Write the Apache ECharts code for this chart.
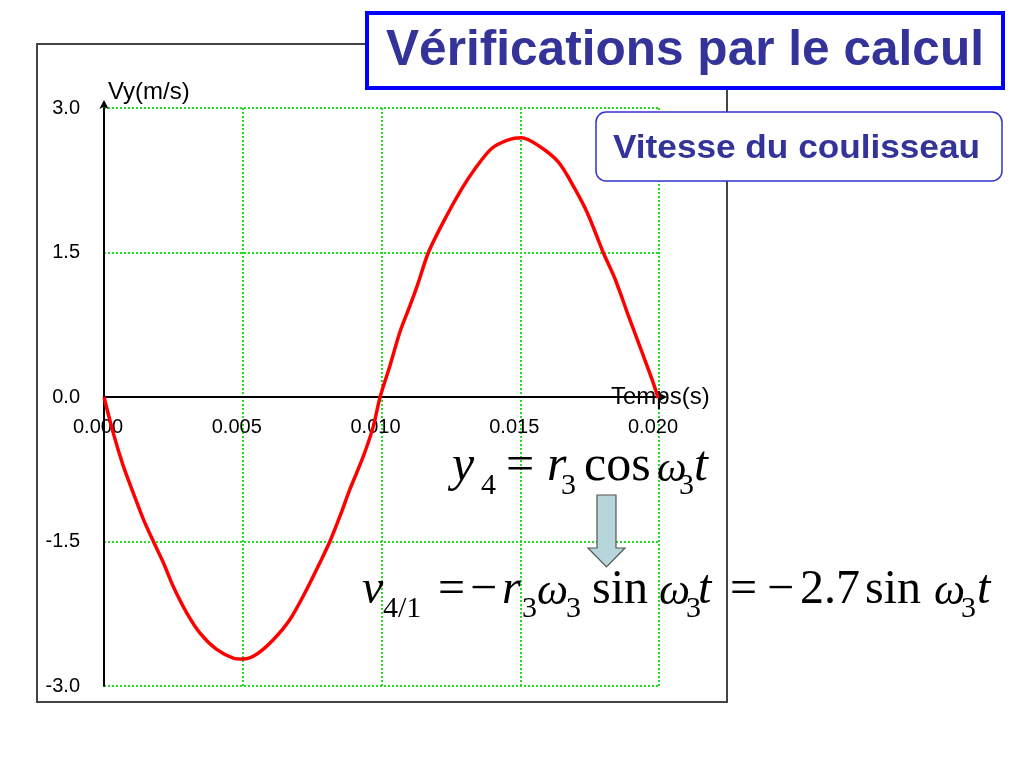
<!DOCTYPE html>
<html>
<head>
<meta charset="utf-8">
<script src="https://cdn.jsdelivr.net/npm/echarts@6/dist/echarts.min.js"></script>
<style>
html,body{margin:0;padding:0;background:#fff;}
#chart{width:1024px;height:768px;}
</style>
</head>
<body>
<div id="chart"></div>
<script>
// ---- data ----
const times = [0, 0.00034, 0.00070, 0.00106, 0.00142, 0.00178, 0.00214, 0.00250, 0.00298, 0.00346,
  0.00406, 0.00466, 0.00502, 0.00550, 0.00610, 0.00670, 0.00730, 0.00778, 0.00814, 0.00850,
  0.00886, 0.00934, 0.00970, 0.00995, 0.01031, 0.01067, 0.01103, 0.01133, 0.01169, 0.01229,
  0.01289, 0.01337, 0.01397, 0.01457, 0.01505, 0.01565, 0.01637, 0.01697, 0.01745, 0.01799,
  0.01841, 0.01889, 0.01938, 0.01974, 0.01997];
const vy = [0, -0.38, -0.72, -1.00, -1.27, -1.5, -1.72, -1.97, -2.24, -2.45,
  -2.62, -2.71, -2.72, -2.67, -2.52, -2.31, -2.00, -1.72, -1.5, -1.24,
  -0.96, -0.62, -0.31, 0, 0.33, 0.68, 0.95, 1.19, 1.5, 1.85,
  2.16, 2.37, 2.58, 2.67, 2.69, 2.61, 2.44, 2.16, 1.89, 1.5,
  1.23, 0.85, 0.47, 0.19, -0.01];
const xTicks = {min: 0, max: 0.020, step: 0.005};
const yTicks = {min: -3.0, max: 3.0, step: 1.5};
const titleText = 'Vérifications par le calcul';
const subtitleText = 'Vitesse du coulisseau';
const xName = 'Temps(s)';
const yName = 'Vy(m/s)';

// formula fragments: [text, x, kind]  kind: i = italic, n = normal, s = subscript, w = omega
const formula1 = [['y',452,'i'],['4',481,'s'],['=',506,'n'],['r',547,'i'],['3',561,'s'],
  ['cos',584,'n'],['ω',657,'w'],['3',679,'s'],['t',694,'i']];
const formula2 = [['v',362,'i'],['4/1',383,'s'],['=',438,'n'],['−',470,'n'],['r',502,'i'],['3',522,'s'],
  ['ω',537,'w'],['3',566,'s'],['sin',592,'n'],['ω',659,'w'],['3',686,'s'],['t',698,'i'],
  ['=',730,'n'],['−',767,'n'],['2.7',800,'n'],['sin',865,'n'],['ω',934,'w'],['3',961,'s'],['t',977,'i']];

const seriesData = times.map((t, i) => [t, vy[i]]);

function measure(text, font) {
  const c = document.createElement('canvas').getContext('2d');
  c.font = font;
  return c.measureText(text).width;
}

function formulaElems(list, baseline, subBase, mainSize, subSize, omegaSize) {
  return list.map(([t, x, k]) => {
    const size = k === 's' ? subSize : (k === 'w' ? omegaSize : mainSize);
    const base = k === 's' ? subBase : baseline;
    return {
      type: 'text', x: x, y: base - 0.34 * size, z: 50,
      style: {
        text: t, fill: '#000',
        font: ((k === 'i' || k === 'w') ? 'italic ' : '') + size + 'px "Liberation Serif", serif',
        align: 'left', verticalAlign: 'middle'
      }
    };
  });
}

const titleFont = 'bold 50px "Liberation Sans", Arial, sans-serif';
const titleScale = 598 / measure(titleText, titleFont);
const subFont = 'bold 34px "Liberation Sans", Arial, sans-serif';
const subScale = 367 / measure(subtitleText, subFont);

const chart = echarts.init(document.getElementById('chart'), null, {renderer: 'canvas'});
const labelStyle = {fontFamily: '"Liberation Sans", Arial, sans-serif', fontSize: 20, color: '#000'};
const nameStyle = {fontFamily: '"Liberation Sans", Arial, sans-serif', fontSize: 24, color: '#000'};

const graphics = [
  {type: 'rect', z: -10, shape: {x: 37, y: 44, width: 690, height: 658},
   style: {fill: 'none', stroke: '#444', lineWidth: 2}},
  {type: 'rect', z: 100, shape: {x: 367, y: 13, width: 636, height: 75},
   style: {fill: '#fff', stroke: '#0000ff', lineWidth: 4}},
  {type: 'text', z: 101, x: 386, y: 51, scaleX: titleScale,
   style: {text: titleText, font: titleFont, fill: '#333399', align: 'left', verticalAlign: 'middle'}},
  {type: 'rect', z: 100, shape: {x: 596, y: 112, width: 406, height: 69, r: 10},
   style: {fill: '#fff', stroke: '#3333cc', lineWidth: 1.5}},
  {type: 'text', z: 101, x: 613, y: 149, scaleX: subScale,
   style: {text: subtitleText, font: subFont, fill: '#333399', align: 'left', verticalAlign: 'middle'}},
  {type: 'polygon', z: 40,
   shape: {points: [[597,495],[616,495],[616,548],[625,548],[606.5,567],[588,548],[597,548]]},
   style: {fill: '#b7d6db', stroke: '#555', lineWidth: 1.2}}
].concat(formulaElems(formula1, 484, 496, 50, 30, 42))
 .concat(formulaElems(formula2, 607, 619, 48, 30, 44));

chart.setOption({
  backgroundColor: '#fff',
  animation: false,
  grid: {left: 104, right: 365, top: 108, bottom: 82, containLabel: false},
  xAxis: {
    type: 'value', min: xTicks.min, max: xTicks.max, interval: xTicks.step,
    position: 'bottom', offset: -289,
    name: xName, nameLocation: 'end', nameGap: -48,
    nameTextStyle: Object.assign({}, nameStyle, {align: 'left', verticalAlign: 'middle', padding: [0, 0, 16, 0]}),
    axisLine: {show: true, onZero: false, lineStyle: {color: '#000', width: 2},
      symbol: ['none', 'arrow'], symbolSize: [7, 9], symbolOffset: [0, 8]},
    axisTick: {show: false},
    axisLabel: Object.assign({}, labelStyle, {margin: 20, padding: [0, 12, 0, 0],
      formatter: v => v.toFixed(3)}),
    splitLine: {show: true, lineStyle: {color: '#22dd22', type: 'dotted', width: 2}}
  },
  yAxis: {
    type: 'value', min: yTicks.min, max: yTicks.max, interval: yTicks.step,
    name: yName, nameLocation: 'end', nameGap: 4,
    nameTextStyle: Object.assign({}, nameStyle, {align: 'left', padding: [0, 0, 0, 4]}),
    axisLine: {show: true, onZero: false, lineStyle: {color: '#000', width: 2},
      symbol: ['none', 'arrow'], symbolSize: [7, 9], symbolOffset: [0, 8]},
    axisTick: {show: false},
    axisLabel: Object.assign({}, labelStyle, {margin: 24, formatter: v => v.toFixed(1)}),
    splitLine: {show: true, lineStyle: {color: '#22dd22', type: 'dotted', width: 2}}
  },
  series: [{
    type: 'line', data: seriesData, smooth: 0.3, showSymbol: false,
    lineStyle: {color: '#ff0000', width: 3.5}, z: 5
  }],
  graphic: graphics
});
</script>
</body>
</html>
